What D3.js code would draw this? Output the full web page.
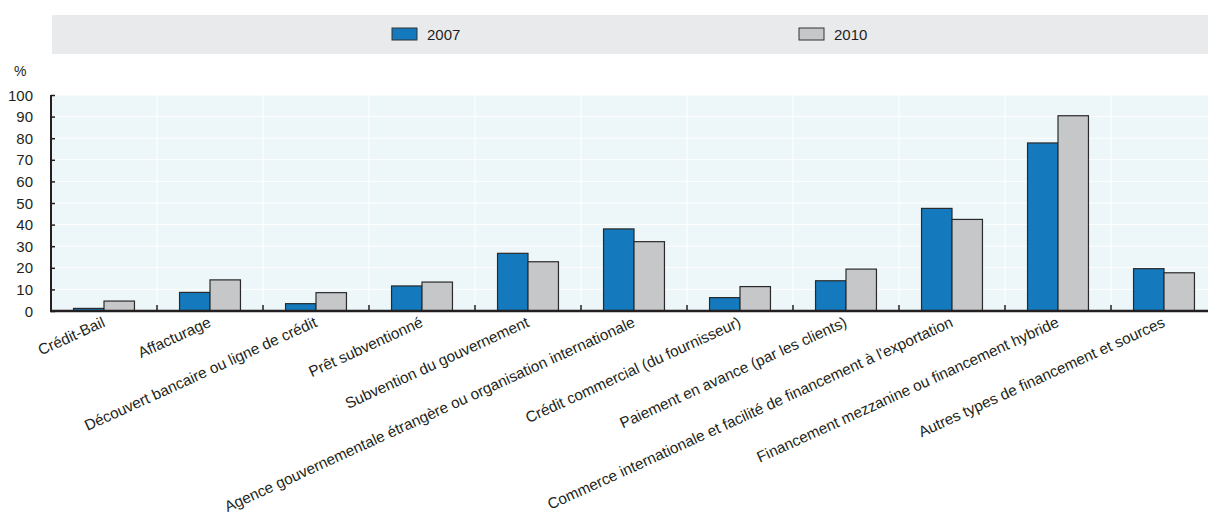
<!DOCTYPE html>
<html>
<head>
<meta charset="utf-8">
<script src="https://cdn.jsdelivr.net/npm/d3@7"></script>
<style>
  body { margin: 0; background: #fff; }
  svg { display: block; font-family: "Liberation Sans", Arial, sans-serif; }
</style>
</head>
<body>
<div id="chart"></div>
<script>
// Data
let categories = [
  "Crédit-Bail",
  "Affacturage",
  "Découvert bancaire ou ligne de crédit",
  "Prêt subventionné",
  "Subvention du gouvernement",
  "Agence gouvernementale étrangère ou organisation internationale",
  "Crédit commercial (du fournisseur)",
  "Paiement en avance (par les clients)",
  "Commerce internationale et facilité de financement à l'exportation",
  "Financement mezzanine ou financement hybride",
  "Autres types de financement et sources"
];
let series = ["2007", "2010"];
let values2007 = [1.2, 8.6, 3.4, 11.6, 26.7, 38.0, 6.2, 14.0, 47.5, 77.8, 19.6];
let values2010 = [4.6, 14.4, 8.5, 13.4, 22.8, 32.1, 11.3, 19.4, 42.4, 90.4, 17.7];
let yTicks = [0, 10, 20, 30, 40, 50, 60, 70, 80, 90, 100];

// Svg defs
let w = 1208,
    h = 514;
let colors = { "2007": "#1479bd", "2010": "#c6c7c9" };

let svg = d3.select("#chart")
  .append("svg")
  .attr("width", w)
  .attr("height", h)
  .attr("viewBox", [0, 0, w, h]);

// Scales (plot runs past the right edge, as in the source)
let x0 = d3.scaleBand()
  .domain(categories)
  .range([51, 51 + 106 * categories.length]);

let x1 = d3.scaleBand()
  .domain(series)
  .range([0, x0.bandwidth()])
  .paddingOuter(0.74);

let y = d3.scaleLinear()
  .domain([0, 100])
  .range([311, 95]);

let rows = categories.map((c, i) => ({ cat: c, vals: [values2007[i], values2010[i]] }));

// Legend band
svg.append("rect")
  .attr("x", 52).attr("y", 15)
  .attr("width", w - 52).attr("height", 39)
  .attr("fill", "#e9eaec");

let legendX = [392, 799];
let legend = svg.append("g")
  .selectAll("g")
  .data(series)
  .join("g")
  .attr("transform", (d, i) => `translate(${legendX[i]},28)`);
legend.append("rect")
  .attr("width", 25).attr("height", 12)
  .attr("fill", (d) => colors[d])
  .attr("stroke", "#333")
  .attr("stroke-width", 1);
legend.append("text")
  .attr("x", 35).attr("y", 12)
  .attr("font-size", 15)
  .attr("fill", "#231f20")
  .text((d) => d);

// Plot background
svg.append("rect")
  .attr("x", 51).attr("y", y(100))
  .attr("width", x0.range()[1] - 51)
  .attr("height", y(0) - y(100))
  .attr("fill", "#edf6f8");

// Gridlines
svg.append("g")
  .selectAll("line")
  .data(yTicks.slice(1))
  .join("line")
  .attr("x1", 51).attr("x2", x0.range()[1])
  .attr("y1", (d) => y(d)).attr("y2", (d) => y(d))
  .attr("stroke", "#fff")
  .attr("stroke-width", 1);

svg.append("g")
  .selectAll("line")
  .data(categories.slice(1))
  .join("line")
  .attr("x1", (d) => x0(d)).attr("x2", (d) => x0(d))
  .attr("y1", y(100)).attr("y2", y(0))
  .attr("stroke", "#fff")
  .attr("stroke-width", 1);

// Bars
svg.append("g")
  .selectAll("g")
  .data(rows)
  .join("g")
  .attr("transform", (d) => `translate(${x0(d.cat)},0)`)
  .selectAll("rect")
  .data((d) => d.vals.map((v, i) => ({ key: series[i], v: v })))
  .join("rect")
  .attr("x", (d) => x1(d.key))
  .attr("width", x1.bandwidth())
  .attr("y", (d) => y(d.v))
  .attr("height", (d) => y(0) - y(d.v))
  .attr("fill", (d) => colors[d.key])
  .attr("stroke", "#2a2a2a")
  .attr("stroke-width", 1.2);

// Y axis
let yAxis = svg.append("g")
  .attr("transform", "translate(51,0)")
  .call(d3.axisRight(y).tickValues(yTicks).tickSize(4).tickFormat(""));
yAxis.select(".domain").attr("stroke", "#231f20").attr("stroke-width", 2)
  .attr("d", `M0,${y(100)}V${y(0)}`);
yAxis.selectAll(".tick line").attr("stroke", "#231f20").attr("stroke-width", 1.5);

svg.append("g")
  .selectAll("text")
  .data(yTicks)
  .join("text")
  .attr("x", 33)
  .attr("y", (d) => y(d) + 5.5)
  .attr("text-anchor", "end")
  .attr("font-size", 15)
  .attr("fill", "#231f20")
  .text((d) => d);

svg.append("text")
  .attr("x", 14).attr("y", 76)
  .attr("font-size", 14)
  .attr("fill", "#231f20")
  .text("%");

// X axis
let xAxis = svg.append("g")
  .attr("transform", `translate(0,${y(0)})`);
xAxis.append("line")
  .attr("x1", 50).attr("x2", x0.range()[1])
  .attr("stroke", "#231f20")
  .attr("stroke-width", 2.5);
xAxis.selectAll(".sep")
  .data(categories.slice(1))
  .join("line")
  .attr("class", "sep")
  .attr("x1", (d) => x0(d)).attr("x2", (d) => x0(d))
  .attr("y1", 0).attr("y2", -6)
  .attr("stroke", "#231f20")
  .attr("stroke-width", 1.5);

// Category labels
svg.append("g")
  .selectAll("text")
  .data(categories)
  .join("text")
  .attr("transform", (d) => `translate(${x0(d) + x0.bandwidth() / 2 + 2},${y(0) + 15}) rotate(-24.5)`)
  .attr("text-anchor", "end")
  .attr("font-size", 15.3)
  .attr("fill", "#231f20")
  .text((d) => d);
</script>
</body>
</html>
